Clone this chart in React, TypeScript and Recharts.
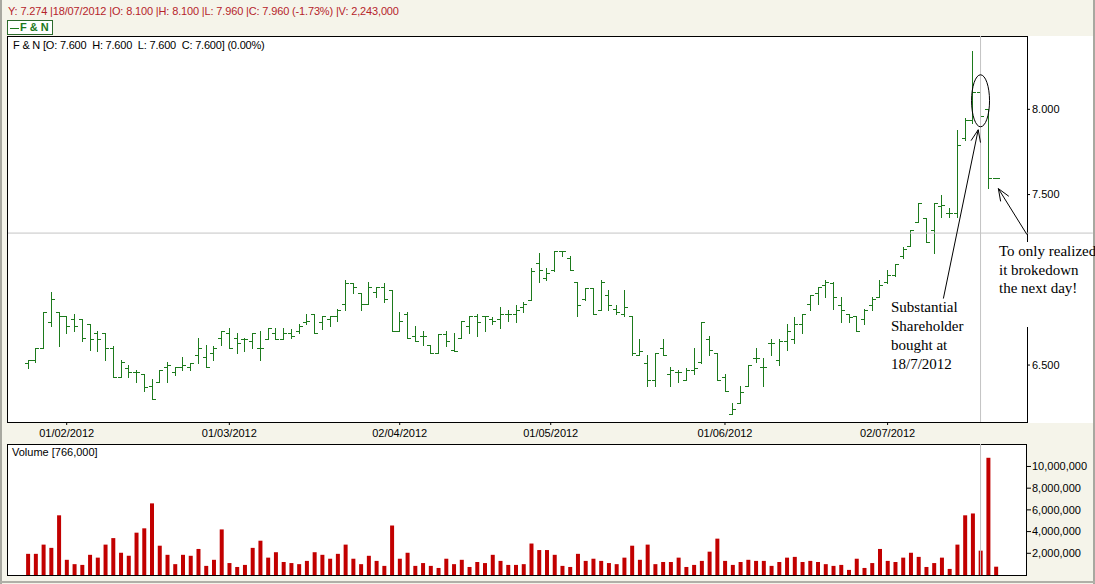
import React from 'react';
import { ComposedChart, BarChart, Bar, XAxis, YAxis, ReferenceLine, ReferenceDot } from 'recharts';

// daily bars, 0 = first session shown (late Jan 2012), 123 = 18/07/2012
const opens = [
  6.51, 6.53, 6.60, 6.75, 6.81, 6.79, 6.77, 6.77, 6.74, 6.69,
  6.69, 6.60, 6.43, 6.48, 6.46, 6.45, 6.38, 6.40, 6.49, 6.46,
  6.49, 6.49, 6.56, 6.55, 6.57, 6.66, 6.69, 6.66, 6.65, 6.64,
  6.60, 6.65, 6.69, 6.65, 6.69, 6.70, 6.75, 6.80, 6.75, 6.77,
  6.79, 6.86, 6.98, 6.92, 6.86, 6.93, 6.96, 6.94, 6.70, 6.80,
  6.67, 6.67, 6.62, 6.57, 6.68, 6.59, 6.66, 6.73, 6.79, 6.79,
  6.77, 6.77, 6.80, 6.80, 6.84, 6.88, 7.10, 7.01, 7.06, 7.17,
  7.13, 6.99, 6.89, 6.95, 6.82, 6.91, 6.83, 6.80, 6.79, 6.56,
  6.51, 6.41, 6.60, 6.45, 6.46, 6.41, 6.47, 6.52, 6.65, 6.57,
  6.43, 6.21, 6.28, 6.38, 6.54, 6.49, 6.63, 6.53, 6.64, 6.65,
  6.74, 6.86, 6.92, 6.97, 6.98, 6.85, 6.80, 6.79, 6.77, 6.85,
  6.90, 6.99, 7.03, 7.14, 7.20, 7.34, 7.36, 7.29, 7.43, 7.39,
  7.39, 7.83, 7.94, 8.10, 8.00, 7.60,
];
const highs = [
  6.53, 6.60, 6.81, 6.93, 6.81, 6.79, 6.80, 6.77, 6.74, 6.70,
  6.69, 6.61, 6.53, 6.50, 6.47, 6.45, 6.42, 6.47, 6.52, 6.49,
  6.55, 6.51, 6.66, 6.62, 6.61, 6.70, 6.72, 6.69, 6.66, 6.69,
  6.70, 6.72, 6.72, 6.72, 6.71, 6.74, 6.80, 6.80, 6.79, 6.79,
  6.83, 7.00, 6.98, 6.92, 6.99, 6.96, 6.98, 6.94, 6.81, 6.81,
  6.73, 6.70, 6.62, 6.68, 6.70, 6.69, 6.76, 6.79, 6.80, 6.79,
  6.78, 6.84, 6.82, 6.85, 6.87, 7.07, 7.16, 7.07, 7.17, 7.17,
  7.14, 6.99, 6.95, 6.95, 7.00, 6.94, 6.85, 6.94, 6.79, 6.65,
  6.56, 6.57, 6.65, 6.49, 6.47, 6.48, 6.60, 6.75, 6.67, 6.57,
  6.45, 6.28, 6.38, 6.50, 6.60, 6.54, 6.65, 6.65, 6.74, 6.78,
  6.80, 6.91, 6.96, 7.00, 6.99, 6.90, 6.80, 6.79, 6.83, 6.90,
  7.00, 7.06, 7.09, 7.19, 7.29, 7.45, 7.36, 7.45, 7.50, 7.42,
  7.88, 7.95, 8.34, 8.10, 8.00, 7.60,
];
const lows = [
  6.48, 6.52, 6.60, 6.73, 6.61, 6.69, 6.70, 6.64, 6.59, 6.58,
  6.53, 6.43, 6.43, 6.43, 6.40, 6.35, 6.30, 6.40, 6.40, 6.44,
  6.47, 6.47, 6.51, 6.49, 6.53, 6.62, 6.60, 6.57, 6.58, 6.60,
  6.53, 6.65, 6.65, 6.65, 6.66, 6.69, 6.74, 6.69, 6.71, 6.73,
  6.76, 6.82, 6.92, 6.82, 6.86, 6.90, 6.87, 6.70, 6.70, 6.66,
  6.64, 6.62, 6.57, 6.57, 6.61, 6.58, 6.66, 6.69, 6.67, 6.70,
  6.74, 6.72, 6.76, 6.75, 6.81, 6.88, 6.99, 7.00, 7.05, 7.14,
  7.06, 6.79, 6.88, 6.80, 6.82, 6.82, 6.80, 6.79, 6.56, 6.56,
  6.38, 6.38, 6.56, 6.38, 6.40, 6.41, 6.45, 6.51, 6.56, 6.41,
  6.35, 6.21, 6.28, 6.38, 6.52, 6.38, 6.56, 6.50, 6.59, 6.63,
  6.69, 6.82, 6.86, 6.90, 6.83, 6.75, 6.75, 6.70, 6.74, 6.82,
  6.90, 6.98, 7.02, 7.13, 7.20, 7.34, 7.22, 7.16, 7.37, 7.37,
  7.37, 7.82, 7.92, 7.96, 7.54, 7.60,
];
const closes = [
  6.53, 6.60, 6.81, 6.89, 6.79, 6.73, 6.73, 6.66, 6.65, 6.65,
  6.60, 6.43, 6.52, 6.46, 6.46, 6.37, 6.30, 6.47, 6.50, 6.49,
  6.50, 6.51, 6.60, 6.49, 6.60, 6.70, 6.60, 6.63, 6.65, 6.69,
  6.60, 6.72, 6.65, 6.69, 6.67, 6.73, 6.76, 6.69, 6.79, 6.79,
  6.82, 6.98, 6.96, 6.86, 6.96, 6.96, 6.89, 6.70, 6.76, 6.66,
  6.64, 6.67, 6.57, 6.68, 6.64, 6.58, 6.76, 6.79, 6.75, 6.79,
  6.76, 6.80, 6.80, 6.82, 6.86, 7.05, 7.06, 7.04, 7.17, 7.17,
  7.06, 6.85, 6.95, 6.80, 6.99, 6.85, 6.81, 6.84, 6.57, 6.58,
  6.41, 6.57, 6.56, 6.47, 6.46, 6.47, 6.48, 6.75, 6.59, 6.41,
  6.35, 6.24, 6.34, 6.50, 6.54, 6.49, 6.63, 6.64, 6.70, 6.74,
  6.80, 6.91, 6.96, 6.99, 6.90, 6.82, 6.78, 6.70, 6.82, 6.89,
  6.97, 7.03, 7.09, 7.18, 7.29, 7.45, 7.22, 7.45, 7.44, 7.39,
  7.79, 7.94, 8.10, 7.96, 7.60, 7.60,
];
// volume in millions of shares
const volumes = [
  1.95, 1.95, 2.8, 2.5, 5.5, 1.4, 1.0, 0.93, 1.86, 1.6,
  2.8, 3.4, 2.05, 1.77, 3.9, 4.3, 6.6, 2.7, 1.86, 1.0,
  1.86, 1.77, 2.4, 0.84, 1.4, 4.2, 1.1, 0.74, 0.93, 2.5,
  3.16, 1.6, 2.1, 1.2, 1.1, 1.0, 1.3, 2.1, 1.86, 1.5,
  1.95, 2.8, 1.5, 1.0, 1.77, 1.3, 0.84, 4.56, 1.5, 2.05,
  0.84, 1.1, 0.84, 0.65, 1.5, 1.0, 1.4, 0.74, 1.2, 1.1,
  1.86, 1.3, 0.93, 0.93, 1.0, 2.9, 2.3, 2.3, 1.86, 0.84,
  0.74, 1.95, 1.3, 1.5, 1.3, 1.1, 1.0, 1.6, 2.7, 1.4,
  2.8, 1.0, 1.2, 1.2, 1.6, 0.74, 0.93, 1.3, 2.15, 3.35,
  1.3, 0.93, 1.2, 1.4, 1.3, 1.3, 0.84, 1.2, 1.6, 1.67,
  1.2, 1.3, 1.2, 1.0, 0.84, 0.93, 0.47, 1.5, 0.65, 1.1,
  2.4, 1.3, 1.2, 1.6, 2.05, 1.67, 0.74, 1.1, 1.6, 0.56,
  2.8, 5.5, 5.67, 2.243, 10.8, 0.766,
];

// month starts on the session axis
const monthTicks = [5, 26, 48, 67.5, 90, 111];
const monthLabels = ['01/02/2012', '01/03/2012', '02/04/2012', '01/05/2012', '01/06/2012', '02/07/2012'];
// 7.000 sits under the note box in the original, so it is not shown
const priceTicks = [6.5, 7.5, 8];
const volumeTicks = [2e6, 4e6, 6e6, 8e6, 10e6];

const CROSS_IDX = 123;
const CROSS_PRICE = 7.274;
const X_DOMAIN: [number, number] = [-2.58, 129];
const PRICE_DOMAIN: [number, number] = [6.166, 8.43];
const VOL_DOMAIN: [number, number] = [0, 12.07e6];

const GREEN = '#1c7a1c';
const BEIGE = '#f5f4ea';
const FONT = '"Liberation Sans", Arial, sans-serif';

const rows = opens.map((o, i) => ({
  i,
  o,
  h: highs[i],
  l: lows[i],
  c: closes[i],
  range: [lows[i], highs[i]],
  vol: volumes[i] * 1e6,
}));

const OhlcBar = (props: any) => {
  const { x, y, width, height, payload } = props;
  if (x == null || y == null || !payload) return null;
  const cx = Math.round(x + width / 2) + 0.5;
  const span = payload.h - payload.l;
  const at = (v: number) => (span > 0 ? y + ((payload.h - v) / span) * height : y);
  const yo = Math.round(at(payload.o)) + 0.5;
  const yc = Math.round(at(payload.c)) + 0.5;
  const top = Math.round(y);
  const bottom = Math.round(y + height) + 1;
  return (
    <path
      d={`M${cx},${top} V${bottom} M${cx - 3.5},${yo} H${cx} M${cx},${yc} H${cx + 3.5}`}
      stroke={GREEN}
      strokeWidth={1}
      fill="none"
      shapeRendering="crispEdges"
    />
  );
};

// line from segment start (tail) to end (tip) with an open arrow head
const Arrow = (props: any) => {
  const { x1, y1, x2, y2 } = props;
  const ang = Math.atan2(y2 - y1, x2 - x1);
  const len = 13;
  const spread = 0.38;
  const w1x = x2 - len * Math.cos(ang - spread);
  const w1y = y2 - len * Math.sin(ang - spread);
  const w2x = x2 - len * Math.cos(ang + spread);
  const w2y = y2 - len * Math.sin(ang + spread);
  return (
    <path
      d={`M${x1},${y1} L${x2},${y2} M${w1x},${w1y} L${x2},${y2} L${w2x},${w2y}`}
      stroke="#000"
      strokeWidth={1}
      fill="none"
    />
  );
};

const Ring = (props: any) => (
  <ellipse cx={props.cx} cy={props.cy} rx={9} ry={26} fill="none" stroke="#000" strokeWidth={1} />
);

const axisTick = { fontSize: 11, fill: '#000', fontFamily: FONT };

export default function App() {
  return (
    <div
      style={{
        position: 'absolute',
        left: 0,
        top: 0,
        width: 1095,
        height: 584,
        background: BEIGE,
        overflow: 'hidden',
        fontFamily: FONT,
        fontSize: 11,
        color: '#000',
      }}
    >
      {/* window edges */}
      <div style={{ position: 'absolute', left: 0, top: 0, width: 2, height: 584, background: '#a8a8a0' }} />
      <div style={{ position: 'absolute', left: 1093, top: 0, width: 2, height: 584, background: '#a8a8a0' }} />
      <div style={{ position: 'absolute', left: 0, top: 581, width: 1095, height: 2, background: '#b0b0a8' }} />

      <div style={{ position: 'absolute', left: 8, top: 5, color: '#b5242a', whiteSpace: 'pre', lineHeight: '13px', letterSpacing: -0.15 }}>
        Y: 7.274 |18/07/2012 |O: 8.100 |H: 8.100 |L: 7.960 |C: 7.960 (-1.73%) |V: 2,243,000
      </div>
      <div
        style={{
          position: 'absolute',
          left: 7,
          top: 20,
          width: 46,
          height: 15,
          boxSizing: 'border-box',
          border: '1px solid #2c6a2c',
          background: '#fff',
          color: GREEN,
          fontWeight: 'bold',
          lineHeight: '13px',
          paddingLeft: 2,
          whiteSpace: 'pre',
        }}
      >
        <span style={{ display: 'inline-block', width: 9, height: 1, background: GREEN, verticalAlign: 'middle', marginRight: 1 }} />
        F &amp; N
      </div>

      {/* price panel */}
      <div style={{ position: 'absolute', left: 7, top: 36, width: 1021, height: 387, boxSizing: 'border-box', border: '1px solid #000', background: '#fff' }} />
      <div style={{ position: 'absolute', left: 1028, top: 36, width: 65, height: 387, background: '#fff' }} />
      <div style={{ position: 'absolute', left: 13, top: 39, whiteSpace: 'pre', lineHeight: '12px', letterSpacing: -0.2 }}>
        F &amp; N [O: 7.600  H: 7.600  L: 7.600  C: 7.600] (0.00%)
      </div>

      {/* volume panel */}
      <div style={{ position: 'absolute', left: 7, top: 444, width: 1020, height: 132, boxSizing: 'border-box', border: '1px solid #000', background: '#fff' }} />
      <div style={{ position: 'absolute', left: 12, top: 446, whiteSpace: 'pre', lineHeight: '12px' }}>Volume [766,000]</div>

      <div style={{ position: 'absolute', left: 0, top: 36 }}>
        <ComposedChart width={1095} height={408} data={rows} margin={{ top: 0, right: 2, bottom: 0, left: 8 }}>
          <XAxis
            dataKey="i"
            type="number"
            domain={X_DOMAIN}
            allowDataOverflow
            ticks={monthTicks}
            interval={0}
            tickFormatter={(v: number) => monthLabels[monthTicks.indexOf(v)] ?? ''}
            height={22}
            axisLine={false}
            tickLine={{ stroke: '#000' }}
            tickSize={3}
            tickMargin={4}
            tick={axisTick}
          />
          <YAxis
            orientation="right"
            width={66}
            domain={PRICE_DOMAIN}
            allowDataOverflow
            ticks={priceTicks}
            interval={0}
            tickFormatter={(v: number) => v.toFixed(3)}
            axisLine={false}
            tickLine={{ stroke: '#000' }}
            tickSize={3}
            tickMargin={2}
            tick={axisTick}
          />
          <ReferenceLine x={CROSS_IDX} stroke="#c4c4c4" strokeWidth={1} />
          <ReferenceLine
            segment={[
              { x: X_DOMAIN[0], y: CROSS_PRICE },
              { x: X_DOMAIN[1] + 8.5, y: CROSS_PRICE },
            ]}
            ifOverflow="visible"
            stroke="#c4c4c4"
            strokeWidth={1}
          />
          <Bar dataKey="range" shape={OhlcBar} barSize={7} isAnimationActive={false} />
          <ReferenceDot x={CROSS_IDX} y={8.05} ifOverflow="visible" shape={Ring} />
          <ReferenceLine
            segment={[
              { x: 118.2, y: 6.89 },
              { x: 122.7, y: 7.88 },
            ]}
            ifOverflow="visible"
            shape={Arrow}
          />
          <ReferenceLine
            segment={[
              { x: 129, y: 7.265 },
              { x: 125.3, y: 7.535 },
            ]}
            ifOverflow="visible"
            shape={Arrow}
          />
        </ComposedChart>
      </div>

      <div style={{ position: 'absolute', left: 0, top: 444 }}>
        <BarChart width={1095} height={131} data={rows} margin={{ top: 0, right: 2, bottom: 0, left: 8 }}>
          <XAxis dataKey="i" type="number" domain={X_DOMAIN} allowDataOverflow hide />
          <YAxis
            orientation="right"
            width={66}
            domain={VOL_DOMAIN}
            allowDataOverflow
            ticks={volumeTicks}
            interval={0}
            tickFormatter={(v: number) => v.toLocaleString('en-US')}
            axisLine={false}
            tickLine={{ stroke: '#000' }}
            tickSize={4}
            tickMargin={1}
            tick={axisTick}
          />
          <ReferenceLine x={CROSS_IDX} stroke="#c4c4c4" strokeWidth={1} />
          <Bar dataKey="vol" fill="#c20000" barSize={4} isAnimationActive={false} />
        </BarChart>
      </div>

      {/* annotations */}
      <div
        style={{
          position: 'absolute',
          left: 891,
          top: 298,
          fontFamily: '"Liberation Serif", "Times New Roman", serif',
          fontSize: 15,
          lineHeight: '19px',
          whiteSpace: 'pre',
        }}
      >
        {'Substantial\nShareholder\nbought at\n18/7/2012'}
      </div>
      <div
        style={{
          position: 'absolute',
          left: 997,
          top: 242,
          width: 96,
          height: 85,
          background: '#fff',
          paddingLeft: 2,
          boxSizing: 'border-box',
          fontFamily: '"Liberation Serif", "Times New Roman", serif',
          fontSize: 15,
          lineHeight: '18.5px',
          whiteSpace: 'pre',
        }}
      >
        {'To only realized\nit brokedown\nthe next day!'}
      </div>
    </div>
  );
}
